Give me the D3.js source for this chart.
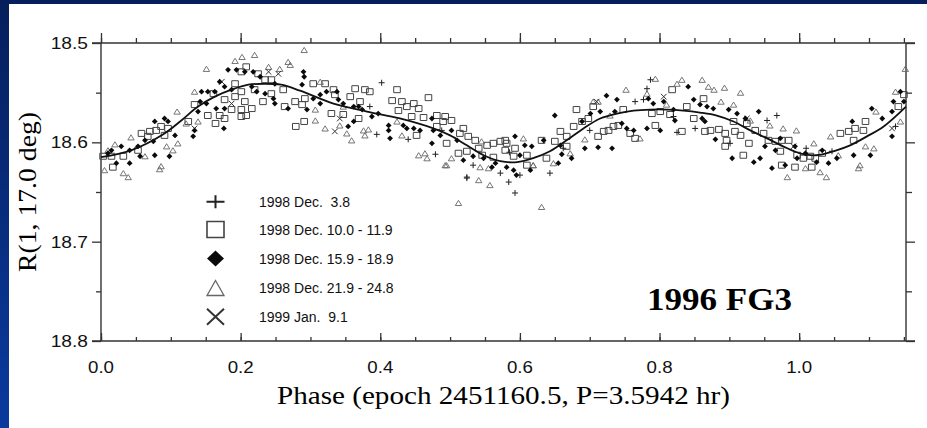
<!DOCTYPE html>
<html><head><meta charset="utf-8">
<script src="https://cdn.jsdelivr.net/npm/d3@7"></script>
<style>
html,body{margin:0;padding:0;background:#0a2f86;}
svg{display:block;}
</style></head><body>
<svg id="chart" width="927" height="428"></svg>
<script>
// ---------- data ----------
const xTickLabels = [0.0, 0.2, 0.4, 0.6, 0.8, 1.0];
const yTickLabels = [18.5, 18.6, 18.7, 18.8];
const xMinorTicks = [0,0.05,0.1,0.15,0.2,0.25,0.3,0.35,0.4,0.45,0.5,0.55,0.6,0.65,0.7,0.75,0.8,0.85,0.9,0.95,1.0,1.05,1.1,1.15];
const yMinorTicks = [18.55, 18.65, 18.75];
const legendLabels = ["1998 Dec.  3.8", "1998 Dec. 10.0 - 11.9", "1998 Dec. 15.9 - 18.9", "1998 Dec. 21.9 - 24.8", "1999 Jan.  9.1"];
const xTitle = "Phase (epoch 2451160.5, P=3.5942 hr)";
const yTitle = "R(1, 17.0 deg)";
const objectName = "1996 FG3";

const fitCurve = [[0,18.615],[0.043,18.608],[0.091,18.591],[0.115,18.578],[0.139,18.564],[0.163,18.554],[0.187,18.547],[0.211,18.542],[0.234,18.541],[0.258,18.542],[0.285,18.548],[0.333,18.561],[0.381,18.569],[0.428,18.576],[0.476,18.586],[0.5,18.593],[0.524,18.603],[0.548,18.613],[0.572,18.619],[0.596,18.620],[0.619,18.616],[0.643,18.609],[0.667,18.598],[0.691,18.586],[0.715,18.576],[0.739,18.571],[0.763,18.568],[0.787,18.567],[0.81,18.567],[0.834,18.568],[0.858,18.570],[0.882,18.573],[0.906,18.579],[0.93,18.588],[0.954,18.596],[0.977,18.604],[1.001,18.611],[1.025,18.613],[1.049,18.609],[1.073,18.603],[1.097,18.594],[1.121,18.584],[1.153,18.564]];

const plusPts = [[0.402,18.540],[0.395,18.592],[0.440,18.597],[0.479,18.612],[0.533,18.623],[0.524,18.635],[0.488,18.588],[0.385,18.564],
 [0.643,18.631],[0.600,18.633],[0.782,18.546],[0.787,18.537],[0.765,18.559],[0.777,18.557],[0.820,18.574],[0.825,18.590],[0.662,18.606],[0.851,18.586],
 [0.968,18.573],[0.954,18.578],[1.047,18.609],[1.138,18.584],[0.901,18.601],
 [0.524,18.636],[0.584,18.640],[0.593,18.651],[0.572,18.631],[0.585,18.610],[0.700,18.588],[1.010,18.606]];

const squarePts = [[0.058,18.591],[0.070,18.589],[0.067,18.594],[0.086,18.584],[0.096,18.586],[0.079,18.588],[0.091,18.593],[0.208,18.524],[0.201,18.529],[0.225,18.531],[0.235,18.537],[0.244,18.537],[0.192,18.541],[0.201,18.549],[0.220,18.547],[0.232,18.559],[0.244,18.551],[0.261,18.547],[0.263,18.564],[0.278,18.559],[0.279,18.584],[0.206,18.559],[0.216,18.566],[0.201,18.567],[0.208,18.573],[0.201,18.574],[0.187,18.567],[0.177,18.576],[0.170,18.573],[0.164,18.581],[0.153,18.573],[0.161,18.551],[0.177,18.557],[0.192,18.554],[0.003,18.614],[0.015,18.614],[0.032,18.614],[0.017,18.625],[0.053,18.608],[0.125,18.579],[0.134,18.562],
 [0.291,18.579],[0.304,18.541],[0.321,18.541],[0.364,18.546],[0.378,18.547],[0.385,18.549],[0.357,18.554],[0.424,18.547],[0.469,18.555],[0.417,18.558],[0.431,18.559],[0.438,18.564],[0.448,18.561],[0.455,18.566],[0.426,18.568],[0.333,18.547],[0.335,18.552],[0.330,18.571],[0.347,18.572],[0.371,18.559],[0.369,18.576],[0.445,18.574],[0.462,18.575],[0.481,18.573],[0.493,18.574],[0.502,18.578],[0.490,18.579],[0.481,18.584],[0.519,18.586],[0.514,18.591],[0.526,18.594],[0.536,18.598],[0.495,18.601],[0.512,18.611],[0.524,18.609],[0.541,18.606],[0.553,18.603],[0.562,18.601],[0.572,18.599],[0.546,18.613],[0.562,18.615],[0.452,18.593],[0.288,18.562],[0.292,18.556],
 [0.579,18.598],[0.581,18.601],[0.579,18.608],[0.593,18.606],[0.591,18.614],[0.610,18.613],[0.631,18.598],[0.650,18.599],[0.658,18.589],[0.667,18.604],[0.677,18.584],[0.689,18.579],[0.698,18.576],[0.681,18.567],[0.705,18.564],[0.712,18.594],[0.720,18.589],[0.727,18.588],[0.734,18.584],[0.741,18.583],[0.748,18.567],[0.758,18.591],[0.765,18.596],[0.794,18.583],[0.789,18.571],[0.801,18.569],[0.815,18.572],[0.818,18.547],[0.832,18.589],[0.839,18.564],[0.849,18.576],[0.863,18.556],[0.667,18.594],[0.638,18.616],[0.610,18.623],
 [0.865,18.589],[0.873,18.588],[0.885,18.587],[0.894,18.591],[0.896,18.598],[0.894,18.604],[0.906,18.579],[0.908,18.589],[0.916,18.593],[0.920,18.613],[0.928,18.601],[0.937,18.588],[0.949,18.591],[0.956,18.598],[0.966,18.599],[0.975,18.598],[0.985,18.598],[0.973,18.609],[0.997,18.613],[1.006,18.616],[1.016,18.614],[1.023,18.616],[1.033,18.611],[0.994,18.625],[1.018,18.625],[1.059,18.591],[1.071,18.589],[1.080,18.586],[1.092,18.588],[1.095,18.579],[1.078,18.598],[0.975,18.623],[1.142,18.564],[1.150,18.552],[0.925,18.581]];

const diamondPts = [[0.182,18.527],[0.194,18.527],[0.206,18.529],[0.218,18.529],[0.228,18.534],[0.249,18.541],[0.247,18.556],[0.249,18.561],[0.268,18.566],[0.223,18.549],[0.216,18.544],[0.235,18.551],[0.170,18.539],[0.163,18.549],[0.153,18.549],[0.144,18.549],[0.142,18.559],[0.151,18.561],[0.139,18.569],[0.134,18.588],[0.132,18.594],[0.176,18.586],[0.177,18.566],[0.165,18.566],[0.187,18.547],[0.177,18.544],[0.077,18.579],[0.091,18.576],[0.096,18.579],[0.106,18.593],[0.098,18.614],[0.075,18.599],[0.063,18.598],[0.053,18.604],[0.041,18.608],[0.029,18.604],[0.015,18.608],[0.010,18.611],[0.022,18.621],[0.041,18.621],[0.056,18.614],[0.077,18.613],
 [0.290,18.529],[0.291,18.534],[0.288,18.542],[0.304,18.556],[0.314,18.552],[0.323,18.549],[0.338,18.549],[0.340,18.557],[0.347,18.561],[0.362,18.564],[0.369,18.564],[0.374,18.567],[0.388,18.574],[0.397,18.571],[0.362,18.579],[0.354,18.584],[0.412,18.583],[0.414,18.596],[0.412,18.588],[0.433,18.583],[0.438,18.586],[0.448,18.586],[0.457,18.588],[0.474,18.576],[0.476,18.588],[0.502,18.588],[0.486,18.593],[0.474,18.601],[0.510,18.598],[0.519,18.618],[0.533,18.614],[0.548,18.616],[0.560,18.625],[0.314,18.561],[0.295,18.567],
 [0.593,18.594],[0.607,18.603],[0.617,18.604],[0.634,18.598],[0.650,18.573],[0.658,18.603],[0.674,18.616],[0.693,18.606],[0.712,18.605],[0.732,18.606],[0.689,18.579],[0.715,18.569],[0.724,18.553],[0.739,18.557],[0.736,18.569],[0.746,18.581],[0.753,18.586],[0.763,18.588],[0.782,18.586],[0.784,18.556],[0.791,18.561],[0.801,18.588],[0.806,18.559],[0.820,18.567],[0.822,18.578],[0.841,18.544],[0.849,18.557],[0.858,18.562],[0.591,18.628],[0.581,18.625],[0.655,18.621],[0.600,18.613],[0.701,18.571],
 [0.868,18.564],[0.877,18.566],[0.861,18.576],[0.865,18.579],[0.880,18.597],[0.899,18.567],[0.911,18.571],[0.923,18.576],[0.942,18.569],[0.904,18.616],[0.935,18.620],[0.944,18.616],[0.961,18.626],[0.966,18.608],[0.980,18.623],[0.994,18.604],[0.997,18.616],[1.009,18.611],[1.025,18.620],[1.033,18.608],[1.042,18.621],[1.054,18.616],[1.076,18.579],[1.078,18.613],[1.102,18.613],[1.104,18.566],[1.119,18.576],[1.133,18.569],[1.135,18.559],[1.145,18.549],[1.150,18.559],[1.133,18.594],[0.951,18.604],[0.973,18.596],
 [0.595,18.633],[0.615,18.628],[0.565,18.621],[0.660,18.612]];

const trianglePts = [[0.151,18.526],[0.192,18.518],[0.202,18.514],[0.220,18.512],[0.268,18.519],[0.271,18.522],[0.240,18.524],[0.256,18.526],[0.134,18.549],[0.109,18.569],[0.122,18.581],[0.139,18.579],[0.043,18.595],[0.020,18.602],[0.005,18.628],[0.039,18.635],[0.032,18.631],[0.086,18.624],[0.084,18.627],[0.110,18.601],[0.103,18.608],[0.094,18.604],[0.063,18.614],[0.010,18.608],
 [0.291,18.507],[0.307,18.567],[0.307,18.578],[0.321,18.586],[0.352,18.591],[0.359,18.598],[0.376,18.588],[0.383,18.587],[0.378,18.593],[0.424,18.579],[0.431,18.593],[0.455,18.613],[0.464,18.611],[0.467,18.616],[0.495,18.623],[0.502,18.616],[0.342,18.583],[0.543,18.625],[0.555,18.626],[0.545,18.599],[0.347,18.564],[0.314,18.539],
 [0.605,18.596],[0.693,18.597],[0.672,18.611],[0.648,18.621],[0.619,18.623],[0.705,18.559],[0.712,18.559],[0.752,18.547],[0.794,18.536],[0.832,18.537],[0.861,18.537],[0.825,18.541],[0.772,18.596],[0.810,18.562],[0.782,18.551],[0.729,18.573],
 [0.870,18.544],[0.878,18.547],[0.893,18.545],[0.916,18.550],[0.888,18.559],[0.906,18.562],[0.958,18.583],[0.977,18.586],[0.996,18.588],[1.021,18.601],[1.045,18.594],[1.056,18.613],[1.087,18.623],[1.085,18.626],[1.095,18.604],[1.107,18.606],[1.110,18.569],[1.138,18.549],[1.152,18.526],[0.983,18.635],[1.009,18.626],[1.039,18.635],[1.030,18.630],[1.145,18.579],[0.930,18.578],
 [0.512,18.661],[0.631,18.665],[0.541,18.638],[0.557,18.643],[0.493,18.623],[0.619,18.623]];

const crossPts = [[0.134,18.586],[0.187,18.561],[0.240,18.529],[0.254,18.531],[0.173,18.539],[0.335,18.589],[0.342,18.576],[0.710,18.559],[0.806,18.554],[1.133,18.586],[0.992,18.604],[0.925,18.576]];

// ---------- layout ----------
const W = 927, H = 428;
const svg = d3.select("#chart");
const defs = svg.append("defs");
const grad = defs.append("linearGradient").attr("id","bg").attr("x1",0).attr("y1",0).attr("x2",0).attr("y2",1);
grad.append("stop").attr("offset","0%").attr("stop-color","#061f5c");
grad.append("stop").attr("offset","100%").attr("stop-color","#0a3a9e");
svg.append("rect").attr("width",W).attr("height",H).attr("fill","url(#bg)");
svg.append("rect").attr("x",9).attr("y",4).attr("width",W-9).attr("height",H-4).attr("fill","#fff");

const x = d3.scaleLinear().domain([0, 1.153]).range([101, 906]);
const y = d3.scaleLinear().domain([18.5, 18.8]).range([43, 341]);
const axisColor = "#333";

// frame lines
const frame = svg.append("g").attr("stroke", axisColor).attr("stroke-width", 1.4);
frame.append("line").attr("x1",92).attr("x2",915).attr("y1",y(18.5)).attr("y2",y(18.5));
frame.append("line").attr("x1",92).attr("x2",915).attr("y1",y(18.8)).attr("y2",y(18.8));
frame.append("line").attr("x1",x(0)).attr("x2",x(0)).attr("y1",y(18.5)).attr("y2",y(18.8));
frame.append("line").attr("x1",x(1.153)).attr("x2",x(1.153)).attr("y1",y(18.5)).attr("y2",y(18.8));

function styleAxis(g){ g.select(".domain").remove(); g.selectAll("line").attr("stroke",axisColor).attr("stroke-width",1.3); g.selectAll("text").remove(); }
svg.append("g").attr("transform",`translate(0,${y(18.5)})`).call(d3.axisTop(x).tickValues(xMinorTicks).tickSize(5)).call(styleAxis);
svg.append("g").attr("transform",`translate(0,${y(18.5)})`).call(d3.axisTop(x).tickValues(xTickLabels).tickSize(10)).call(styleAxis);
svg.append("g").attr("transform",`translate(0,${y(18.8)})`).call(d3.axisBottom(x).tickValues(xMinorTicks).tickSize(-4)).call(styleAxis);
svg.append("g").attr("transform",`translate(0,${y(18.8)})`).call(d3.axisBottom(x).tickValues(xTickLabels).tickSize(-8)).call(styleAxis);
svg.append("g").attr("transform",`translate(${x(0)},0)`).call(d3.axisLeft(y).tickValues(yMinorTicks).tickSize(5)).call(styleAxis);
svg.append("g").attr("transform",`translate(${x(0)},0)`).call(d3.axisLeft(y).tickValues(yTickLabels).tickSize(9)).call(styleAxis);
svg.append("g").attr("transform",`translate(${x(1.153)},0)`).call(d3.axisRight(y).tickValues(yMinorTicks).tickSize(6)).call(styleAxis);
svg.append("g").attr("transform",`translate(${x(1.153)},0)`).call(d3.axisRight(y).tickValues(yTickLabels).tickSize(9)).call(styleAxis);

const sans = "Arial, 'Liberation Sans', Helvetica, sans-serif";
const serif = "'Times New Roman', 'Liberation Serif', Times, serif";
svg.append("g").selectAll("g").data(xTickLabels).join("g")
  .attr("transform", d => `translate(${x(d)},373) scale(1.1,1)`)
  .append("text").attr("text-anchor","middle").attr("font-family",sans).attr("font-size",17).attr("fill","#111")
  .text(d => d.toFixed(1));
svg.append("g").selectAll("g").data(yTickLabels).join("g")
  .attr("transform", d => `translate(88,${y(d)+6}) scale(1.13,1)`)
  .append("text").attr("text-anchor","end").attr("font-family",sans).attr("font-size",17).attr("fill","#111")
  .text(d => d.toFixed(1));

svg.append("text").attr("x",277).attr("y",404).attr("font-family",serif).attr("font-size",26).attr("fill","#000")
  .attr("textLength",453).attr("lengthAdjust","spacingAndGlyphs").text(xTitle);
svg.append("text").attr("transform","translate(36,272) rotate(-90)").attr("font-family",serif).attr("font-size",25).attr("fill","#000")
  .attr("textLength",160).attr("lengthAdjust","spacingAndGlyphs").text(yTitle);
svg.append("text").attr("x",647).attr("y",310).attr("font-family",serif).attr("font-weight","bold").attr("font-size",32).attr("fill","#000")
  .attr("textLength",145).attr("lengthAdjust","spacingAndGlyphs").text(objectName);

function symbolPath(type, sx, sy){
  switch(type){
    case "plus": return `M${-sx},0H${sx}M0,${-sy}V${sy}`;
    case "square": return `M${-sx},${-sy}H${sx}V${sy}H${-sx}Z`;
    case "diamond": return `M0,${-sy}L${sx},0L0,${sy}L${-sx},0Z`;
    case "triangle": return `M0,${-sy}L${sx},${sy}L${-sx},${sy}Z`;
    case "cross": return `M${-sx},${-sy}L${sx},${sy}M${-sx},${sy}L${sx},${-sy}`;
  }
}
const seriesDefs = [
  {type:"plus", data:plusPts, stroke:"#222", fill:"none", sw:1.0, s:[3.0,3.0], ls:[9,6.5], lsw:2},
  {type:"square", data:squarePts, stroke:"#444", fill:"none", sw:1.0, s:[3.3,3.0], ls:[8.5,8], lsw:1.6},
  {type:"diamond", data:diamondPts, stroke:"none", fill:"#0a0a0a", sw:0, s:[2.9,2.9], ls:[8.5,8], lsw:0},
  {type:"triangle", data:trianglePts, stroke:"#666", fill:"none", sw:0.9, s:[3.2,2.6], ls:[8.5,7.5], lsw:1.3},
  {type:"cross", data:crossPts, stroke:"#333", fill:"none", sw:1.0, s:[2.8,2.8], ls:[8.5,8], lsw:2}
];
const drawOrder = [1,3,0,4,2];
drawOrder.forEach(i => {
  const sd = seriesDefs[i];
  svg.append("g").selectAll("path").data(sd.data).join("path")
    .attr("transform", d => `translate(${x(d[0])},${y(d[1])})`)
    .attr("d", symbolPath(sd.type, sd.s[0], sd.s[1]))
    .attr("fill", sd.fill).attr("stroke", sd.stroke).attr("stroke-width", sd.sw);
});

svg.append("path").datum(fitCurve)
  .attr("d", d3.line().x(d => x(d[0])).y(d => y(d[1])).curve(d3.curveCatmullRom))
  .attr("fill","none").attr("stroke","#111").attr("stroke-width",1.8);

const legRowY = [201.7, 229.5, 258.5, 288, 316.7];
const leg = svg.append("g");
seriesDefs.forEach((sd, i) => {
  leg.append("path").attr("transform",`translate(215.5,${legRowY[i]})`)
    .attr("d", symbolPath(sd.type, sd.ls[0], sd.ls[1]))
    .attr("fill", sd.fill).attr("stroke", sd.stroke).attr("stroke-width", sd.lsw);
  leg.append("text").attr("x",259).attr("y",legRowY[i]+5).attr("font-family",sans).attr("font-size",14)
    .attr("fill","#111").style("white-space","pre").text(legendLabels[i]);
});
</script>
</body></html>
